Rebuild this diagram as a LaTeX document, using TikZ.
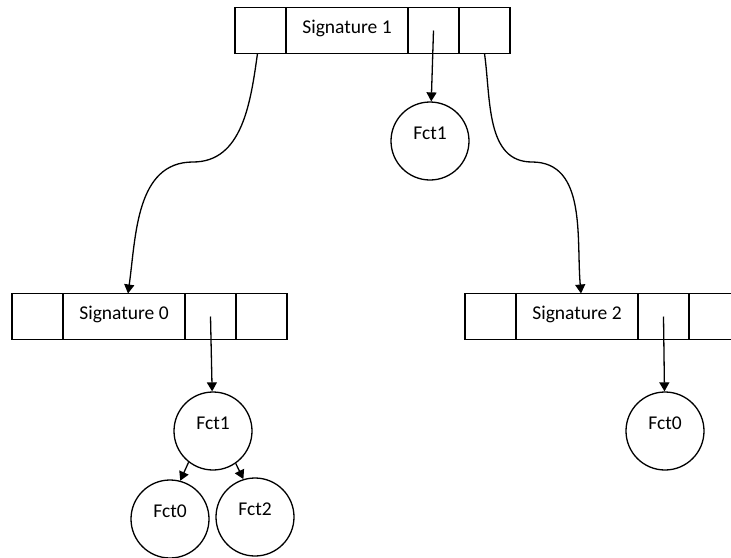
\documentclass[tikz,border=0pt]{standalone}
\usepackage{fontspec}
\setmainfont{Carlito}
\usepackage{tikz}
\usetikzlibrary{arrows.meta, positioning}

\begin{document}
\begin{tikzpicture}[x=1pt, y=1pt, line width=1.3pt, >={Triangle[width=10pt,length=9pt]}]
\tikzstyle{cell}=[rectangle, draw, minimum width=51, minimum height=46, outer sep=0pt, inner sep=0pt, text depth=7pt, font=\fontsize{19.5}{23}\selectfont]
\tikzstyle{fct}=[circle, draw, minimum size=78, inner sep=0pt, text depth=15pt, font=\fontsize{19.5}{23}\selectfont]

\clip (0,0) rectangle (731,-557);

\foreach \n/\x/\y in {1/260.5/-30.5, 0/37.5/-316.5, 2/490.5/-316.5}
{
   \node[cell] (s\n a) at (\x,\y) {};
   \node[cell, minimum width=122, right=0pt of s\n a] (s\n b) {Signature \n};
   \node[cell, right=0pt of s\n b] (s\n c) {};
   \node[cell, right=0pt of s\n c] (s\n d) {};
}

\node[fct] (f1) at (430,-141) {Fct1};
\node[fct] (f1l) at (213,-431) {Fct1};
\node[fct] (f0l) at (170,-519) {Fct0};
\node[fct] (f2l) at (255,-517) {Fct2};
\node[fct] (f0r) at (665,-431) {Fct0};

\coordinate (m0) at (193,-162);
\coordinate (m2) at (532,-162);

\draw[->] ([xshift=-3]s1a.south) to[out=-98, in=0] (m0) to[out=180, in=82] ([xshift=4]s0b.north);
\draw[->] (s1d.south) to[out=-82, in=180] (m2) to[out=0, in=95] ([xshift=4]s2b.north);
\draw[->] (s1c.center)--(f1);
\draw[->] (s0c.center)--(f1l);
\draw[->] (s2c.center)--(f0r);
\draw[->] (f1l.232)--(f0l.75);
\draw[->] (f1l.-55)--(f2l.107);

\end{tikzpicture}
\end{document}
